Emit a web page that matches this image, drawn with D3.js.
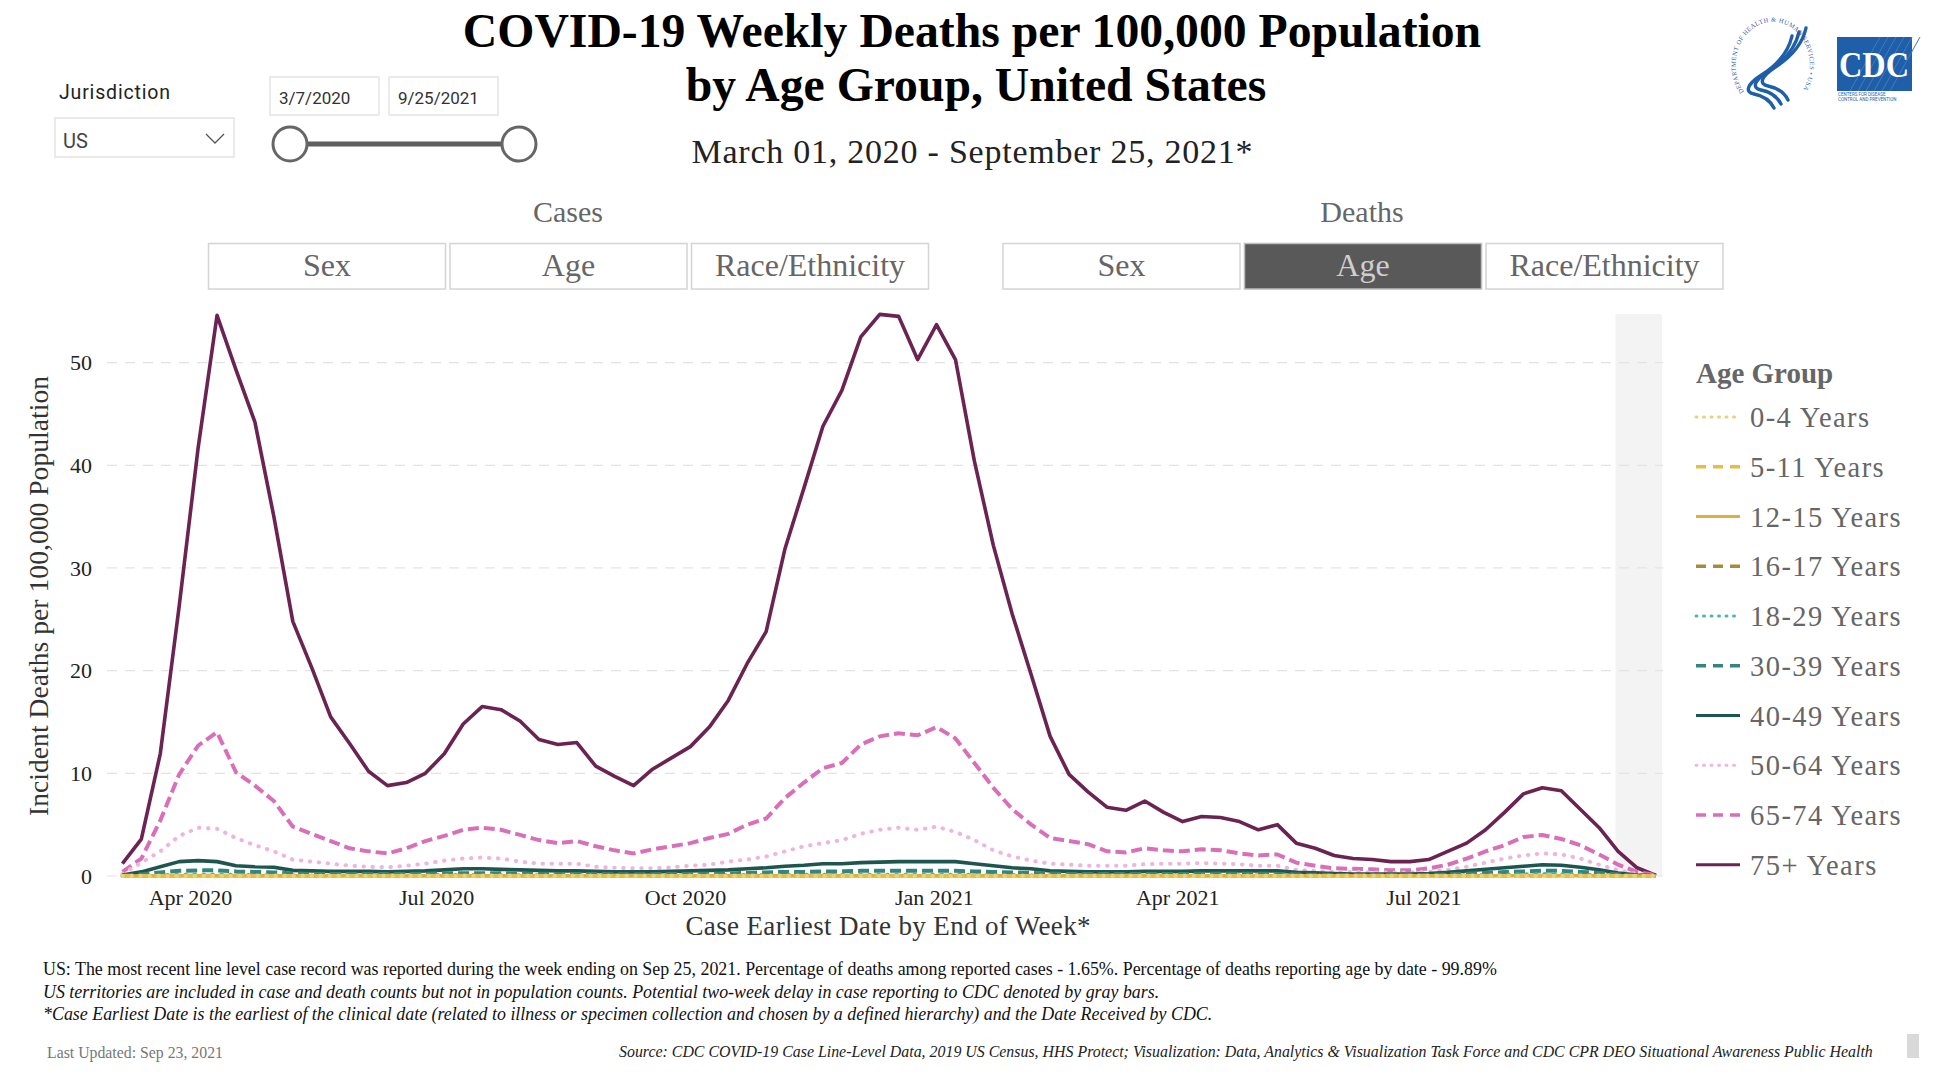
<!DOCTYPE html>
<html><head><meta charset="utf-8">
<script src="https://cdn.jsdelivr.net/npm/d3@7"></script>
<style>body{margin:0;background:#fff}svg{display:block}</style>
</head><body>
<svg id="c" width="1934" height="1088"></svg>
<script>
// ---------------- DATA ----------------
const weekEnding = d3.timeSaturday.range(new Date(2020, 2, 7), new Date(2021, 8, 26)); // 3/7/2020 .. 9/25/2021

const ageGroups = ["0-4 Years","5-11 Years","12-15 Years","16-17 Years","18-29 Years",
                   "30-39 Years","40-49 Years","50-64 Years","65-74 Years","75+ Years"];

const age0_4 = [0,0.01,0.01,0.01,0.01,0.01,0.01,0.01,0.01,0.01, 0.01,0.01,0.01,0.01,0.01,0.01,0.01,0.01,0.01,0.01,
  0.01,0.01,0.01,0.01,0.01,0.01,0.01,0.01,0.01,0.01, 0.01,0.01,0.01,0.01,0.01,0.01,0.01,0.01,0.01,0.01,
  0.01,0.01,0.01,0.01,0.01,0.01,0.01,0.01,0.01,0.01, 0.01,0.01,0.01,0.01,0.01,0.01,0.01,0.01,0.01,0.01,
  0.01,0.01,0.01,0.01,0.01,0.01,0.01,0.01,0.01,0.01, 0.01,0.01,0.01,0.01,0.01,0.01,0.01,0.01,0.01,0.01, 0.01,0];
const age5_11 = [0,0,0,0.01,0.01,0.01,0.01,0,0,0, 0,0,0,0,0,0,0,0,0,0,
  0,0,0,0,0,0,0,0,0,0, 0,0,0,0,0,0,0,0.01,0.01,0.01,
  0.01,0.01,0.01,0.01,0.01,0,0,0,0,0, 0,0,0,0,0,0,0,0,0,0,
  0,0,0,0,0,0,0,0,0,0, 0,0,0,0.01,0.01,0.01,0.01,0.01,0,0, 0,0];
const age12_15 = [0,0,0.01,0.01,0.01,0.01,0.01,0.01,0.01,0.01, 0.01,0.01,0.01,0.01,0.01,0.01,0.01,0.01,0.01,0.01,
  0.01,0.01,0.01,0.01,0.01,0.01,0.01,0.01,0.01,0.01, 0.01,0.01,0.01,0.01,0.01,0.01,0.01,0.01,0.01,0.01,
  0.01,0.01,0.01,0.01,0.01,0.01,0.01,0.01,0.01,0.01, 0.01,0.01,0.01,0.01,0.01,0.01,0.01,0.01,0.01,0.01,
  0.01,0.01,0.01,0.01,0.01,0.01,0.01,0.01,0.01,0.01, 0.01,0.01,0.01,0.02,0.02,0.02,0.02,0.02,0.01,0.01, 0,0];
const age16_17 = [0,0.01,0.02,0.03,0.03,0.03,0.02,0.02,0.02,0.01, 0.01,0.01,0.01,0.01,0.01,0.02,0.02,0.02,0.02,0.02,
  0.02,0.02,0.01,0.01,0.01,0.01,0.01,0.01,0.01,0.01, 0.01,0.01,0.02,0.02,0.02,0.02,0.02,0.02,0.02,0.02,
  0.02,0.02,0.02,0.02,0.02,0.02,0.02,0.01,0.01,0.01, 0.01,0.01,0.01,0.01,0.01,0.01,0.01,0.01,0.01,0.01,
  0.01,0.01,0.01,0.01,0.01,0.01,0.01,0.01,0.01,0.01, 0.01,0.02,0.02,0.03,0.03,0.04,0.04,0.03,0.02,0.01, 0.01,0];
const age18_29 = [0.01,0.04,0.08,0.12,0.14,0.14,0.12,0.1,0.09,0.07, 0.06,0.06,0.06,0.06,0.06,0.07,0.08,0.09,0.1,0.1,
  0.09,0.08,0.07,0.07,0.07,0.06,0.06,0.06,0.06,0.06, 0.07,0.07,0.08,0.09,0.1,0.11,0.11,0.12,0.12,0.13,
  0.13,0.13,0.13,0.14,0.13,0.12,0.1,0.09,0.08,0.07, 0.06,0.06,0.06,0.06,0.06,0.07,0.07,0.07,0.07,0.07,
  0.07,0.07,0.05,0.04,0.04,0.04,0.04,0.04,0.04,0.05, 0.06,0.08,0.11,0.14,0.17,0.19,0.18,0.15,0.11,0.06, 0.02,0.01];
const age30_39 = [0.05,0.15,0.35,0.5,0.55,0.55,0.45,0.4,0.35,0.25, 0.2,0.2,0.2,0.2,0.2,0.2,0.22,0.25,0.28,0.28,
  0.27,0.25,0.22,0.2,0.2,0.2,0.18,0.18,0.18,0.2, 0.2,0.22,0.25,0.3,0.35,0.4,0.4,0.45,0.45,0.5,
  0.5,0.5,0.5,0.52,0.5,0.45,0.4,0.35,0.3,0.25, 0.2,0.2,0.2,0.2,0.2,0.2,0.2,0.22,0.22,0.22,
  0.22,0.2,0.14,0.12,0.1,0.1,0.1,0.1,0.1,0.12, 0.16,0.22,0.3,0.38,0.45,0.52,0.5,0.4,0.3,0.15, 0.05,0.01];
const age40_49 = [0.1,0.4,0.9,1.4,1.5,1.4,1.0,0.9,0.85,0.55, 0.5,0.45,0.45,0.45,0.4,0.45,0.5,0.6,0.7,0.7,
  0.65,0.6,0.55,0.5,0.5,0.45,0.4,0.4,0.4,0.45, 0.5,0.55,0.6,0.7,0.8,0.95,1.05,1.2,1.2,1.3,
  1.35,1.4,1.4,1.4,1.4,1.2,1.0,0.8,0.7,0.5, 0.45,0.4,0.4,0.4,0.45,0.45,0.45,0.5,0.5,0.5,
  0.5,0.5,0.35,0.3,0.25,0.2,0.2,0.2,0.2,0.25, 0.35,0.5,0.65,0.8,0.95,1.1,1.05,0.85,0.6,0.3, 0.1,0.03];
const age50_64 = [0.2,1.3,2.4,3.9,4.7,4.6,3.7,3.0,2.4,1.6, 1.4,1.2,1.0,0.9,0.85,1.0,1.2,1.5,1.7,1.8,
  1.7,1.4,1.2,1.2,1.2,0.9,0.8,0.75,0.75,0.85, 1.0,1.1,1.4,1.6,1.9,2.4,2.9,3.2,3.5,4.1,
  4.5,4.7,4.5,4.8,4.3,3.5,2.5,1.9,1.5,1.2, 1.1,1.0,1.0,1.0,1.15,1.2,1.2,1.25,1.2,1.15,
  1.0,1.0,0.6,0.5,0.4,0.4,0.35,0.35,0.35,0.4, 0.6,0.9,1.3,1.7,2.0,2.2,2.1,1.7,1.1,0.55, 0.2,0.05];
const age65_74 = [0.4,1.7,5.4,9.9,12.7,14.0,10.1,8.8,7.3,4.8, 4.1,3.4,2.7,2.4,2.2,2.7,3.4,3.9,4.5,4.7,
  4.5,4.0,3.5,3.2,3.4,2.9,2.5,2.2,2.6,2.9, 3.2,3.7,4.1,5.0,5.6,7.6,9.1,10.5,11.0,12.8,
  13.6,13.9,13.7,14.5,13.4,11.0,8.6,6.5,5.0,3.7, 3.4,3.1,2.4,2.3,2.7,2.5,2.4,2.6,2.5,2.2,
  2.0,2.1,1.3,1.0,0.75,0.7,0.65,0.55,0.55,0.75, 1.1,1.7,2.4,3.0,3.8,4.0,3.6,3.0,2.1,1.1, 0.4,0.1];
const age75plus = [1.2,3.6,11.9,26.3,41.7,54.6,49.3,44.2,35.0,24.8, 20.3,15.5,12.9,10.2,8.8,9.1,10.0,11.9,14.8,16.5,
  16.2,15.1,13.3,12.8,13.0,10.7,9.7,8.8,10.4,11.5, 12.6,14.5,17.1,20.7,23.8,31.9,37.8,43.8,47.3,52.5,
  54.7,54.5,50.3,53.7,50.3,40.4,32.2,25.5,19.6,13.6, 9.9,8.2,6.7,6.4,7.3,6.2,5.3,5.8,5.7,5.3,
  4.5,5.0,3.2,2.7,2.0,1.7,1.6,1.4,1.4,1.6, 2.4,3.2,4.5,6.2,8.0,8.6,8.3,6.5,4.7,2.4, 0.8,0.05];

const seriesValues = [age0_4, age5_11, age12_15, age16_17, age18_29, age30_39, age40_49, age50_64, age65_74, age75plus];

const yTicks = [0, 10, 20, 30, 40, 50];
const xTickDates = [new Date(2020,3,1), new Date(2020,6,1), new Date(2020,9,1), new Date(2021,0,1), new Date(2021,3,1), new Date(2021,6,1)];
const delayStart = new Date(2021, 8, 10);

const casesButtons = ["Sex", "Age", "Race/Ethnicity"];
const deathsButtons = ["Sex", "Age", "Race/Ethnicity"];

// ---------------- STYLES ----------------
const colors = ["#e8d27e","#e4be48","#d9b13b","#a78b3c","#4cb7b7","#2e8783","#1e564f","#eeb6dc","#d96fb8","#6b2352"];
const kinds  = ["dot","dash","solid","dash","dot","dash","solid","dot","dash","solid"];
const serif = "'Liberation Serif','Times New Roman',serif";
const sans = "Roboto,'Open Sans',sans-serif";

const svg = d3.select("#c");
svg.append("rect").attr("width",1934).attr("height",1088).attr("fill","#fff");

// stretch a text node's spacing by a factor of its natural width
function spread(sel, factor){
  sel.each(function(){ const w = this.getComputedTextLength(); d3.select(this).attr("textLength", w*factor).attr("lengthAdjust","spacing"); });
}

// ---------------- HEADER ----------------
svg.append("text").attr("x",972).attr("y",47).attr("text-anchor","middle")
  .attr("font-family",serif).attr("font-weight","bold").attr("font-size",47.7).attr("fill","#000")
  .text("COVID-19 Weekly Deaths per 100,000 Population");
svg.append("text").attr("x",976).attr("y",101).attr("text-anchor","middle")
  .attr("font-family",serif).attr("font-weight","bold").attr("font-size",47.7).attr("fill","#000")
  .text("by Age Group, United States");
svg.append("text").attr("x",972).attr("y",163).attr("text-anchor","middle")
  .attr("font-family",serif).attr("font-size",34).attr("fill","#222")
  .attr("textLength",561).attr("lengthAdjust","spacing")
  .text("March 01, 2020 - September 25, 2021*");

// Jurisdiction slicer
svg.append("text").attr("x",59).attr("y",99).attr("font-family",sans).attr("font-size",19.5).attr("fill","#222")
  .attr("textLength",111).attr("lengthAdjust","spacing").text("Jurisdiction");
svg.append("rect").attr("x",55).attr("y",118).attr("width",179).attr("height",39).attr("fill","#fff").attr("stroke","#e3e3e3").attr("stroke-width",1.5);
svg.append("text").attr("x",63).attr("y",148).attr("font-family",sans).attr("font-size",20).attr("fill","#444").text("US");
svg.append("path").attr("d","M206,134 L215,143 L224,134").attr("fill","none").attr("stroke","#555").attr("stroke-width",1.3);

// date range slicer
[["3/7/2020",270],["9/25/2021",389]].forEach(([t,x])=>{
  svg.append("rect").attr("x",x).attr("y",77).attr("width",109).attr("height",38).attr("fill","#fff").attr("stroke","#e3e3e3").attr("stroke-width",1.5);
  svg.append("text").attr("x",x+9).attr("y",104).attr("font-family",sans).attr("font-size",17).attr("fill","#333").text(t);
});
svg.append("line").attr("x1",290).attr("x2",519).attr("y1",144).attr("y2",144).attr("stroke","#5e5e5e").attr("stroke-width",5);
[290,519].forEach(cx=>svg.append("circle").attr("cx",cx).attr("cy",144).attr("r",17).attr("fill","#fff").attr("stroke","#666").attr("stroke-width",3));

// logos
const hhs = svg.append("g");
hhs.append("path").attr("id","hhsArc").attr("d","M1744,92 A37,43 0 1,1 1800,94").attr("fill","none");
hhs.append("text").attr("font-family",serif).attr("font-size",6.5).attr("fill","#3b64a8").attr("letter-spacing",0.4)
  .append("textPath").attr("href","#hhsArc").text("DEPARTMENT OF HEALTH & HUMAN SERVICES • USA");
[0,1,2].forEach(o=>{
  hhs.append("path").attr("transform",`translate(${-7*o},${4*o})`)
    .attr("d","M1806,28 C1802,46 1790,58 1774,68 C1762,76 1758,84 1768,86 C1778,88 1784,92 1788,100")
    .attr("fill","none").attr("stroke","#1f5ea8").attr("stroke-width",3.4).attr("stroke-linecap","round");
});
svg.append("rect").attr("x",1837).attr("y",37).attr("width",75).attr("height",54).attr("fill","#1f5ea8");
[0,8,16,24,32,40].forEach(o=>svg.append("line").attr("x1",1850+o).attr("y1",91).attr("x2",1880+o).attr("y2",37).attr("stroke","#3f7cc0").attr("stroke-width",1));
svg.append("text").attr("x",1874).attr("y",77).attr("text-anchor","middle").attr("font-family",serif).attr("font-weight","bold")
  .attr("font-size",36).attr("fill","#fff").attr("textLength",70).attr("lengthAdjust","spacingAndGlyphs").text("CDC");
svg.append("text").attr("x",1838).attr("y",96).attr("font-family",sans).attr("font-size",4.5).attr("fill","#1f5ea8").text("CENTERS FOR DISEASE");
svg.append("text").attr("x",1838).attr("y",101).attr("font-family",sans).attr("font-size",4.5).attr("fill","#1f5ea8").text("CONTROL AND PREVENTION");

// buttons
svg.append("text").attr("x",568).attr("y",222).attr("text-anchor","middle").attr("font-family",serif).attr("font-size",30).attr("fill","#666").text("Cases");
svg.append("text").attr("x",1362).attr("y",222).attr("text-anchor","middle").attr("font-family",serif).attr("font-size",30).attr("fill","#666").text("Deaths");
function buttons(labels, x0, selected){
  labels.forEach((t,i)=>{
    const x = x0 + i*241.5, sel = (i===selected);
    svg.append("rect").attr("x",x).attr("y",243.5).attr("width",237).attr("height",45.5)
      .attr("fill", sel ? "#595959" : "#fff").attr("stroke", sel ? "#bdbdbd" : "#d4d4d4").attr("stroke-width",1.5);
    svg.append("text").attr("x",x+118.5).attr("y",276).attr("text-anchor","middle").attr("font-family",serif)
      .attr("font-size",32).attr("fill", sel ? "#cfcfcf" : "#666").text(t);
  });
}
buttons(casesButtons, 208.5, -1);
buttons(deathsButtons, 1003, 1);

// ---------------- CHART ----------------
const x = d3.scaleTime().domain([weekEnding[0], weekEnding[weekEnding.length-1]]).range([122.4, 1656]);
const y = d3.scaleLinear().domain([0, 50]).range([876, 362.6]);

// gray delay band
svg.append("rect").attr("x", x(delayStart)).attr("y", 314).attr("width", 1662 - x(delayStart)).attr("height", 876-314).attr("fill","#f3f3f3");

// gridlines
svg.append("g").selectAll("line").data(yTicks).join("line")
  .attr("x1",107).attr("x2",1663).attr("y1",d=>y(d)).attr("y2",d=>y(d))
  .attr("stroke","#e3e3e3").attr("stroke-width",1.2).attr("stroke-dasharray","10,8");

// axes
const yAxis = svg.append("g").attr("transform","translate(100,0)")
  .call(d3.axisLeft(y).tickValues(yTicks).tickSize(0).tickPadding(8).tickFormat(d3.format("d")));
yAxis.select(".domain").remove();
yAxis.selectAll("text").attr("font-family",serif).attr("font-size",22).attr("fill","#222");

const xAxis = svg.append("g").attr("transform","translate(0,876)")
  .call(d3.axisBottom(x).tickValues(xTickDates).tickSize(0).tickPadding(13).tickFormat(d3.timeFormat("%b %Y")));
xAxis.select(".domain").remove();
xAxis.selectAll("text").attr("font-family",serif).attr("font-size",22).attr("fill","#222");

svg.append("text").attr("transform","translate(48,596) rotate(-90)").attr("text-anchor","middle")
  .attr("font-family",serif).attr("font-size",27.5).attr("fill","#333")
  .attr("textLength",440).attr("lengthAdjust","spacing").text("Incident Deaths per 100,000 Population");
svg.append("text").attr("x",888).attr("y",935).attr("text-anchor","middle")
  .attr("font-family",serif).attr("font-size",27).attr("fill","#333")
  .attr("textLength",405).attr("lengthAdjust","spacing").text("Case Earliest Date by End of Week*");

// lines
function applyStyle(sel, i, legend){
  const k = kinds[i];
  sel.attr("fill","none").attr("stroke",colors[i]);
  if(k==="solid"){ sel.attr("stroke-width", legend?3:3.6).attr("stroke-linejoin","round"); }
  else if(k==="dash"){ sel.attr("stroke-width", legend?3.5:4).attr("stroke-dasharray", legend?"10,7":"11,5"); }
  else { sel.attr("stroke-width", legend?3:4).attr("stroke-linecap","round").attr("stroke-dasharray", legend?"1,6.5":"0.5,8.5"); }
}
const line = d3.line().x((d,j)=>x(weekEnding[j])).y(d=>y(d)).curve(d3.curveLinear);
const gLines = svg.append("g");
for(let i = seriesValues.length-1; i >= 0; i--){
  gLines.append("path").datum(seriesValues[i]).attr("d", line).call(s=>applyStyle(s,i,false));
}

// legend
svg.append("text").attr("x",1696).attr("y",383).attr("font-family",serif).attr("font-weight","bold")
  .attr("font-size",29).attr("fill","#666").text("Age Group");
ageGroups.forEach((g,i)=>{
  const cy = 417 + i*49.76;
  svg.append("line").attr("x1",1696).attr("x2",1740).attr("y1",cy).attr("y2",cy).call(s=>applyStyle(s,i,true));
  svg.append("text").attr("x",1750).attr("y",cy+10).attr("font-family",serif).attr("font-size",28.5).attr("fill","#666")
    .text(g).call(s=>spread(s,1.106));
});

// ---------------- FOOTER ----------------
svg.append("text").attr("x",43).attr("y",975).attr("font-family",serif).attr("font-size",17.9).attr("fill","#111")
  .text("US: The most recent line level case record was reported during the week ending on Sep 25, 2021. Percentage of deaths among reported cases - 1.65%. Percentage of deaths reporting age by date - 99.89%");
svg.append("text").attr("x",43).attr("y",998).attr("font-family",serif).attr("font-style","italic").attr("font-size",17.9).attr("fill","#111")
  .text("US territories are included in case and death counts but not in population counts. Potential two-week delay in case reporting to CDC denoted by gray bars.");
svg.append("text").attr("x",43).attr("y",1020).attr("font-family",serif).attr("font-style","italic").attr("font-size",17.9).attr("fill","#111")
  .text("*Case Earliest Date is the earliest of the clinical date (related to illness or specimen collection and chosen by a defined hierarchy) and the Date Received by CDC.");
svg.append("text").attr("x",47).attr("y",1058).attr("font-family",serif).attr("font-size",15.8).attr("fill","#777")
  .text("Last Updated: Sep 23, 2021");
svg.append("text").attr("x",619).attr("y",1057).attr("font-family",serif).attr("font-style","italic").attr("font-size",15.9).attr("fill","#222")
  .text("Source: CDC COVID-19 Case Line-Level Data, 2019 US Census, HHS Protect; Visualization: Data, Analytics & Visualization Task Force and CDC CPR DEO Situational Awareness Public Health");
svg.append("rect").attr("x",1907).attr("y",1034).attr("width",12).attr("height",24).attr("fill","#d9d9d9");
</script>
</body></html>
